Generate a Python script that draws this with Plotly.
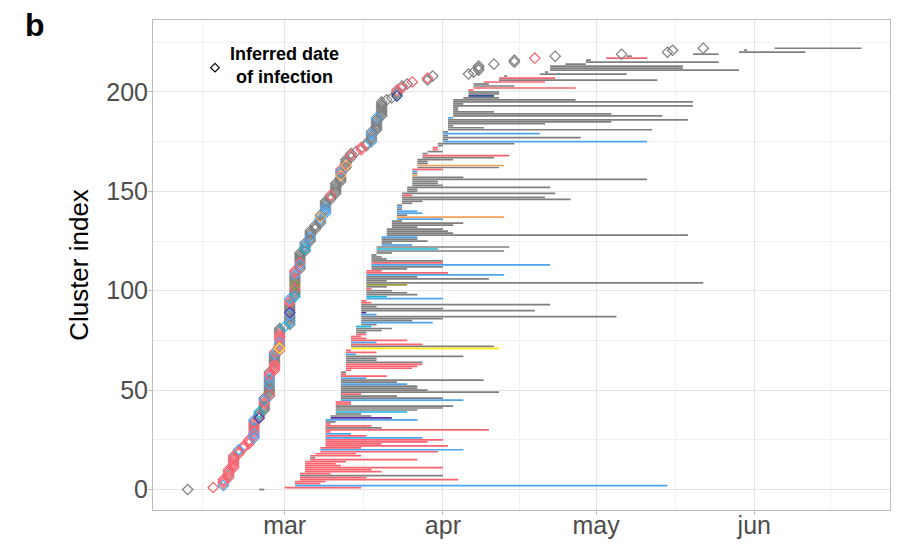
import pandas as pd
import plotly.graph_objects as go

# Day offsets are counted from 1 March 2020; one entry per cluster (index = position).
BASE_DATE = pd.Timestamp("2020-03-01")

infection_day = [
    -19, -14, -12, -12, -12, -12, -11, -11, -11, -11,
    -11, -10, -10, -10, -10, -10, -10, -10, -9, -9,
    -9, -8, -8, -7, -7, -7, -6, -6, -6, -6,
    -6, -6, -6, -6, -6, -6, -5, -5, -5, -5,
    -4, -4, -4, -4, -4, -4, -4, -3, -3, -3,
    -3, -3, -3, -3, -3, -3, -3, -3, -3, -3,
    -2, -2, -2, -2, -2, -2, -2, -2, -2, -2,
    -1, -1, -1, -1, -1, -1, -1, -1, -1, -1,
    -1, -1, 0, 1, 1, 1, 1, 1, 1, 1,
    1, 1, 1, 1, 1, 1, 1, 2, 2, 2,
    2, 2, 2, 2, 2, 2, 2, 2, 2, 2,
    2, 3, 3, 3, 3, 3, 3, 3, 3, 3,
    4, 4, 4, 4, 4, 5, 5, 5, 5, 5,
    5, 6, 6, 6, 7, 7, 7, 7, 7, 8,
    8, 8, 8, 8, 8, 8, 9, 9, 9, 10,
    10, 10, 10, 10, 10, 11, 11, 11, 11, 11,
    11, 11, 12, 12, 12, 12, 12, 13, 13, 13,
    14, 15, 15, 16, 16, 17, 17, 17, 17, 17,
    17, 18, 18, 18, 18, 18, 18, 18, 19, 19,
    19, 19, 19, 19, 19, 19, 20, 21, 22, 22,
    22, 22, 23, 23, 24, 25, 28, 28, 29, 36,
    37, 38, 38, 38, 41, 45, 45, 49, 53, 66,
    75, 76, 82,
]

first_sample_day = [
    -5, 0, 2, 2, 2, 3, 3, 3, 3, 4,
    4, 4, 4, 4, 4, 5, 5, 5, 6, 7,
    7, 7, 8, 8, 8, 8, 8, 8, 8, 8,
    8, 8, 8, 8, 8, 8, 9, 9, 10, 10,
    10, 10, 10, 10, 10, 11, 11, 11, 11, 11,
    11, 11, 11, 11, 11, 11, 11, 11, 11, 11,
    12, 12, 12, 12, 12, 12, 12, 12, 12, 12,
    12, 13, 13, 13, 13, 13, 13, 13, 14, 14,
    14, 14, 14, 15, 15, 15, 15, 15, 15, 15,
    15, 15, 15, 15, 15, 15, 16, 16, 16, 16,
    16, 16, 16, 16, 16, 16, 16, 16, 16, 16,
    16, 17, 17, 17, 17, 17, 17, 17, 17, 18,
    18, 18, 18, 19, 19, 19, 19, 19, 20, 20,
    20, 20, 21, 21, 21, 21, 22, 22, 22, 22,
    22, 22, 22, 22, 23, 23, 23, 23, 23, 23,
    24, 24, 24, 25, 25, 25, 25, 25, 25, 25,
    25, 25, 26, 26, 26, 26, 26, 27, 27, 27,
    28, 29, 29, 30, 30, 31, 31, 31, 31, 31,
    31, 32, 32, 32, 32, 32, 32, 32, 33, 33,
    33, 33, 33, 33, 33, 33, 33, 35, 36, 36,
    36, 36, 37, 37, 37, 39, 42, 42, 43, 50,
    51, 52, 52, 52, 55, 59, 59, 63, 67, 80,
    89, 90, 96,
]

last_sample_day = [
    -4, 15, 75, 7, 8, 34, 16, 31, 9, 19,
    17, 31, 11, 10, 12, 26, 6, 15, 14, 30,
    35, 15, 32, 19, 28, 31, 27, 16, 13, 9,
    40, 19, 17, 9, 10, 26, 21, 17, 15, 24,
    26, 31, 33, 13, 13, 35, 31, 22, 15, 42,
    28, 26, 26, 24, 22, 39, 16, 20, 12, 12,
    13, 25, 26, 27, 27, 18, 18, 35, 14, 18,
    13, 42, 41, 27, 18, 24, 16, 15, 16, 16,
    19, 21, 17, 18, 29, 25, 31, 65, 18, 16,
    49, 31, 18, 52, 17, 16, 31, 20, 26, 24,
    21, 17, 20, 24, 82, 20, 40, 26, 43, 32,
    19, 24, 31, 52, 31, 31, 20, 19, 18, 21,
    43, 30, 44, 25, 21, 28, 26, 26, 79, 33,
    32, 31, 26, 33, 35, 23, 31, 43, 24, 27,
    26, 23, 23, 23, 25, 27, 56, 51, 25, 53,
    26, 26, 52, 31, 30, 30, 71, 35, 26, 26,
    26, 31, 42, 43, 28, 28, 33, 41, 44, 28,
    31, 30, 30, 31, 45, 71, 32, 58, 32, 50,
    32, 72, 39, 33, 51, 64, 79, 33, 74, 64,
    41, 34, 34, 80, 35, 80, 57, 42, 41, 42,
    42, 37, 57, 45, 40, 51, 73, 53, 43.6, 67,
    51.6, 89, 78, 78, 59, 85, 60, 71, 68, 85,
    102, 90.6, 113,
]

# Lineage code of each cluster
lineage = list(
    "GRBRRRRGRR" "RRRRRRGRRR" "BRRRRRBRBR" "RGRRGBPGGC" "GGGRRBGGRG"
    "GGGBGGBRRG" "RRRRGGGGBR" "RYGRBRRRRG" "GGCGBGGGBP" "GGGGRRBCGG"
    "GRGLGGGGBR" "RGGBRGGGGG" "GCGBGGGBGG" "GGGGGGBOGB" "BGBGGGGGRG"
    "GGGGGGGGOG" "BRGOGGGGRG" "GRRGGBGGGB" "GGGGGGGBGG" "GGGGGGGGNG"
    "GRRGGRGRGG" "GGGGGGGRGG" "GGG"
)

palette = {
    "G": "#7F7F7F",
    "R": "#F8636F",
    "B": "#4DA3EC",
    "C": "#17B6D8",
    "O": "#F4A25A",
    "P": "#5B2A9C",
    "Y": "#FFE81A",
    "L": "#9A9A38",
    "N": "#1D3F8F",
}
draw_order = ["G", "R", "B", "C", "O", "P", "Y", "L", "N"]

month_ticks = ["2020-03-01", "2020-04-01", "2020-05-01", "2020-06-01"]
month_labels = ["mar", "apr", "may", "jun"]
month_minor = ["2020-02-14", "2020-03-16 12:00", "2020-04-16", "2020-05-16 12:00", "2020-06-16"]
index_ticks = [0, 50, 100, 150, 200]
index_minor = [25, 75, 125, 175, 225]


def to_date(day):
    return (BASE_DATE + pd.Timedelta(days=day)).strftime("%Y-%m-%d %H:%M")


cluster_index = list(range(len(infection_day)))
fig = go.Figure()

# Sampling span of every cluster as a horizontal segment
for code in draw_order:
    members = [i for i in cluster_index if lineage[i] == code]
    if not members:
        continue
    xs, ys = [], []
    for i in members:
        xs += [to_date(first_sample_day[i]), to_date(last_sample_day[i]), None]
        ys += [i, i, None]
    fig.add_trace(go.Scatter(
        x=xs, y=ys, mode="lines",
        line=dict(color=palette[code], width=1.7),
        hoverinfo="skip", showlegend=False,
    ))

# Inferred infection date of every cluster
for code in draw_order:
    members = [i for i in cluster_index if lineage[i] == code]
    if not members:
        continue
    fig.add_trace(go.Scatter(
        x=[to_date(infection_day[i]) for i in members],
        y=members, mode="markers",
        marker=dict(symbol="diamond-open", size=8, color=palette[code],
                    line=dict(width=1.2, color=palette[code])),
        hoverinfo="skip", showlegend=False,
    ))

W, H = 897, 546
ML, MR, MT, MB = 153, 7, 20, 36
PW, PH = W - ML - MR, H - MT - MB


def px_x(px):
    return (px - ML) / PW


def px_y(py):
    return (H - MB - py) / PH


fig.update_layout(
    width=W, height=H,
    margin=dict(l=ML, r=MR, t=MT, b=MB),
    plot_bgcolor="white", paper_bgcolor="white",
    showlegend=False,
    font=dict(family="Liberation Sans, Arial, sans-serif", color="#000000"),
    annotations=[
        dict(text="<b>b</b>", x=px_x(35), y=px_y(25), xref="paper", yref="paper",
             showarrow=False, font=dict(size=32, color="#000000"),
             xanchor="center", yanchor="middle"),
        dict(text="<b>Inferred date<br>of infection</b>", x=px_x(284), y=px_y(65),
             xref="paper", yref="paper", align="center",
             showarrow=False, font=dict(size=18, color="#000000"),
             xanchor="center", yanchor="middle"),
    ],
    shapes=[
        dict(type="path", xref="paper", yref="paper",
             xsizemode="pixel", ysizemode="pixel",
             xanchor=px_x(215), yanchor=px_y(67.7),
             path="M 0,4.3 L 4.3,0 L 0,-4.3 L -4.3,0 Z",
             line=dict(color="#000000", width=1.2)),
    ],
)

fig.update_xaxes(
    type="date",
    range=["2020-02-04 05:00", "2020-06-27 14:00"],
    tickmode="array", tickvals=month_ticks, ticktext=month_labels,
    tickfont=dict(size=25, color="#4D4D4D"),
    ticklabelstandoff=-11,
    showgrid=True, gridcolor="#E4E4E4", gridwidth=1,
    minor=dict(tickmode="array", tickvals=month_minor, showgrid=True,
               gridcolor="#F1F1F1", gridwidth=0.6),
    showline=True, mirror=True, linecolor="#BDBDBD", linewidth=1,
    ticks="outside", ticklen=4, tickcolor="#BDBDBD",
    zeroline=False, automargin=False,
)

fig.update_yaxes(
    range=[-10.3, 236.2],
    tickmode="array", tickvals=index_ticks,
    tickfont=dict(size=25, color="#4D4D4D"),
    ticklabelstandoff=-5,
    showgrid=True, gridcolor="#E4E4E4", gridwidth=1,
    minor=dict(tickmode="array", tickvals=index_minor, showgrid=True,
               gridcolor="#F1F1F1", gridwidth=0.6),
    showline=True, mirror=True, linecolor="#BDBDBD", linewidth=1,
    ticks="outside", ticklen=4, tickcolor="#BDBDBD",
    zeroline=False, automargin=False,
    title=dict(text="Cluster index", font=dict(size=26, color="#000000"), standoff=10),
)

fig.write_html("out.html")
